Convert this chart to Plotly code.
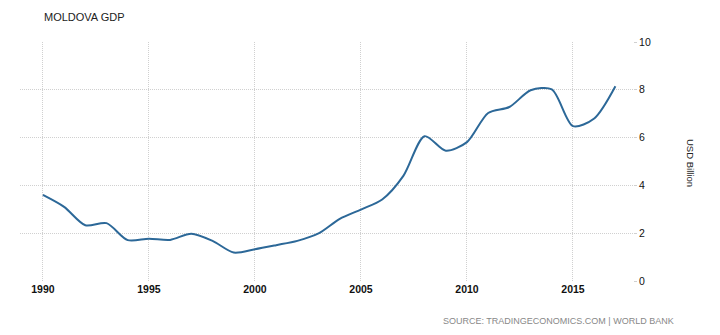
import plotly.graph_objects as go

years = list(range(1990, 2018))
gdp = [3.60, 3.10, 2.33, 2.42, 1.71, 1.77, 1.72, 1.98, 1.68, 1.19,
       1.33, 1.50, 1.68, 1.99, 2.60, 2.99, 3.41, 4.40, 6.06, 5.45,
       5.81, 7.03, 7.28, 7.98, 8.02, 6.48, 6.80, 8.15]
x_ticks = [1990, 1995, 2000, 2005, 2010, 2015]
y_ticks = [0, 2, 4, 6, 8, 10]

fig = go.Figure()
fig.add_trace(go.Scatter(x=years, y=gdp, mode="lines",
                         line=dict(color="#2c6898", width=2, shape="spline", smoothing=0.8),
                         hoverinfo="x+y"))

grid = "#d0d0d0"
fig.update_layout(
    width=720, height=335,
    margin=dict(l=20, r=87, t=42, b=54),
    paper_bgcolor="white", plot_bgcolor="white",
    showlegend=False,
    font=dict(family="Liberation Sans, Arial, sans-serif"),
    xaxis=dict(range=[1988.92, 2017.83], tickvals=x_ticks, showgrid=True,
               gridcolor=grid, griddash="1px,1px", gridwidth=1, zeroline=False,
               showline=False, ticks="",
               tickfont=dict(size=10.5, color="#111", weight="bold")),
    yaxis=dict(range=[0, 10], tickvals=y_ticks, side="right", showgrid=True,
               gridcolor=grid, griddash="1px,1px", gridwidth=1, zeroline=False,
               showline=False, ticks="outside", ticklen=3, tickcolor=grid,
               tickfont=dict(size=10.5, color="#111")),
    annotations=[
        dict(text="MOLDOVA GDP", showarrow=False,
             font=dict(size=11, color="#222"), xanchor="left", yanchor="middle"),
        dict(text="USD Billion", textangle=90, showarrow=False,
             font=dict(size=9.5, color="#222")),
        dict(text="SOURCE: TRADINGECONOMICS.COM | WORLD BANK", showarrow=False,
             font=dict(size=9, color="#888"))
    ]
)

# position annotations in pixel terms relative to the plot area
pl, pr, pt, pb = 20, 633, 42, 281
pw, ph = pr - pl, pb - pt
def px(xp): return (xp - pl) / pw
def py(yp): return (pb - yp) / ph
fig.layout.annotations[0].update(x=px(42), y=py(17), xref="paper", yref="paper")
fig.layout.annotations[1].update(x=px(691), y=py(163), xref="paper", yref="paper",
                                 xanchor="center", yanchor="middle")
fig.layout.annotations[2].update(x=px(676), y=py(321), xref="paper", yref="paper",
                                 xanchor="right", yanchor="middle")

fig.write_html("out.html")
